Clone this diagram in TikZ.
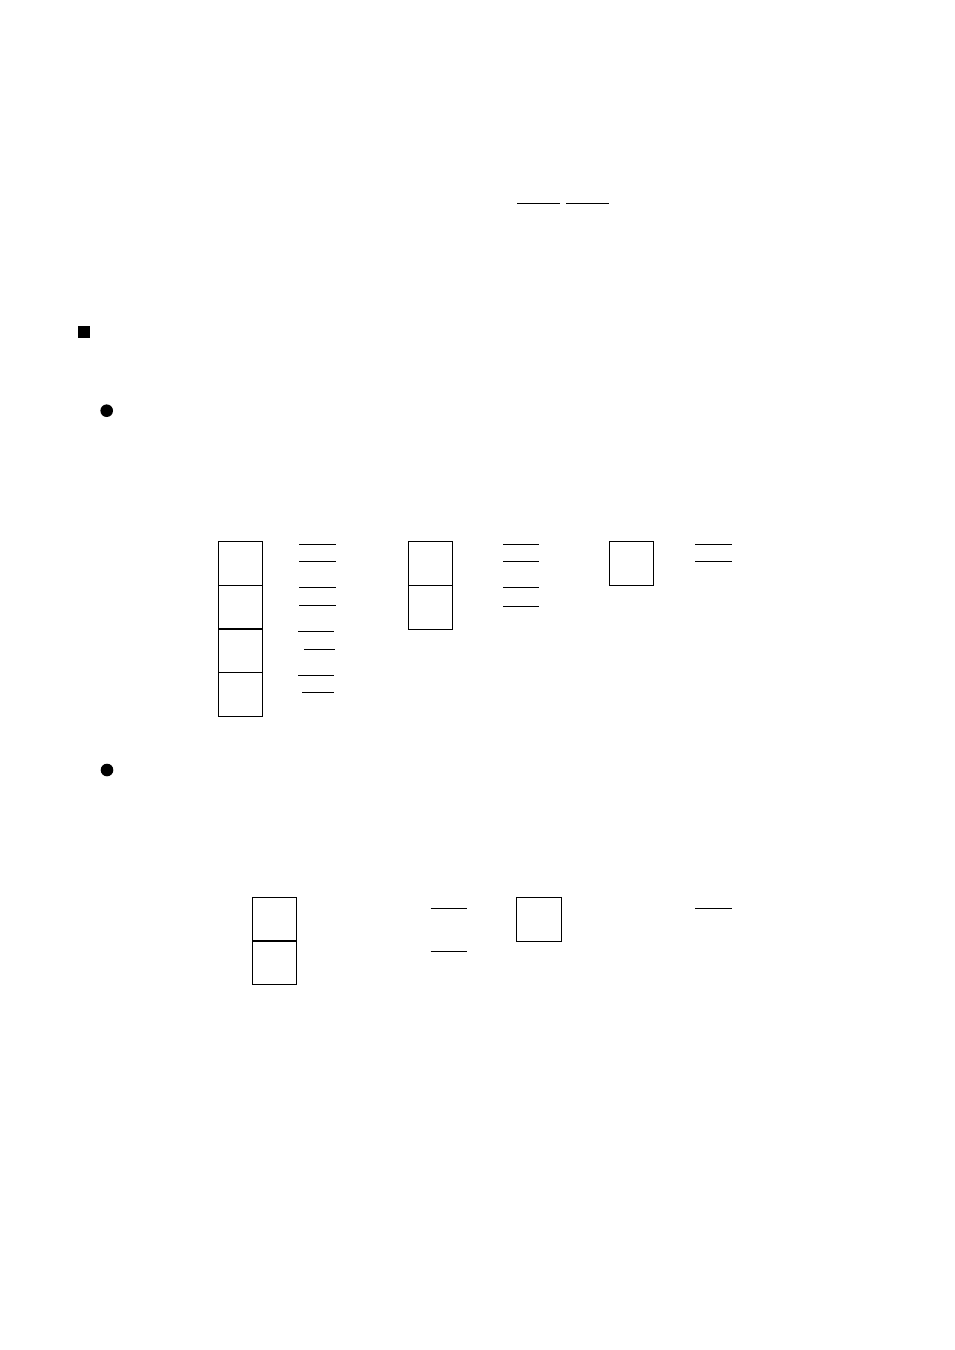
\documentclass[tikz,border=0pt]{standalone}
\usetikzlibrary{positioning}
\tikzset{
  cellbox/.style={draw, rectangle, line width=1.2pt, minimum width=44pt, minimum height=43.8pt, inner sep=0pt, outer sep=0pt},
  blank/.style={line width=1pt},
  dotmark/.style={fill=black}
}
\begin{document}
\begin{tikzpicture}[x=1pt, y=-1pt]
    \useasboundingbox[fill=white] (0,0) rectangle (954,1350);
    % title blanks
    \draw[blank] (517,203) -- (560,203);
    \draw[blank] (566,203) -- (609,203);
    % bullets
    \fill[dotmark] (77.5,325.5) rectangle (90,338);
    \fill[dotmark] (106.7,410.7) circle (6.3);
    \fill[dotmark] (107,770) circle (6.3);

    % first group: four cells
    \node[cellbox] (colAa) at (240.2,563.2) {};
    \node[cellbox, below=0pt of colAa] (colAb) {};
    \node[cellbox, below=0pt of colAb] (colAc) {};
    \node[cellbox, below=0pt of colAc] (colAd) {};
    \draw[blank] (299,544.3) -- (336,544.3);
    \draw[blank] (299,561.3) -- (336,561.3);
    \draw[blank] (299,587.3) -- (336,587.3);
    \draw[blank] (299,605.3) -- (336,605.3);
    \draw[blank] (298,631.3) -- (333.7,631.3);
    \draw[blank] (304,649) -- (334.7,649);
    \draw[blank] (298,675.3) -- (333.7,675.3);
    \draw[blank] (302,692.3) -- (333.7,692.3);

    % two cells
    \node[cellbox] (colBa) at (430.3,563.4) {};
    \node[cellbox, below=0pt of colBa] (colBb) {};
    \draw[blank] (503.3,544.3) -- (538.7,544.3);
    \draw[blank] (503.3,561.3) -- (538.7,561.3);
    \draw[blank] (503.3,587.3) -- (538.7,587.3);
    \draw[blank] (503.3,606.3) -- (538.7,606.3);

    % one cell
    \node[cellbox] (colCa) at (631.3,563.3) {};
    \draw[blank] (695,544.3) -- (732,544.3);
    \draw[blank] (695,561.3) -- (732,561.3);

    % second group
    \node[cellbox] (colDa) at (274.3,919.1) {};
    \node[cellbox, below=0pt of colDa] (colDb) {};
    \draw[blank] (430.7,908.3) -- (467,908.3);
    \draw[blank] (430.7,951.3) -- (467,951.3);

    \node[cellbox, minimum width=45pt] (colEa) at (539,919.3) {};
    \draw[blank] (695,908.3) -- (731.7,908.3);
\end{tikzpicture}
\end{document}
